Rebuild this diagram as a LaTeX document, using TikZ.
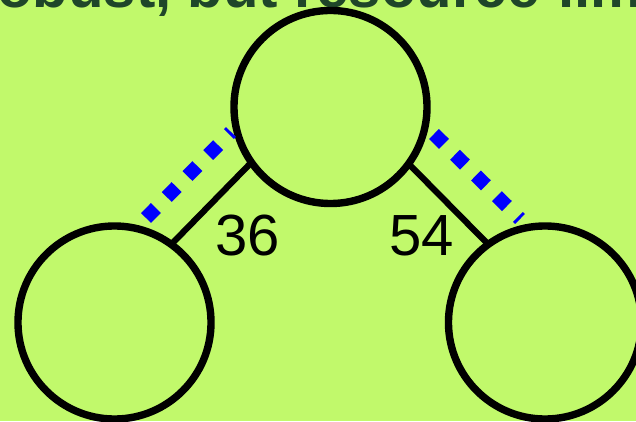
\documentclass[tikz,border=0pt]{standalone}
\usepackage{fontspec}
\setmainfont{Liberation Sans}
\usepackage{xcolor}
\usepackage{tikz}
\definecolor{trLime}{HTML}{C1F96B}
\definecolor{trInk}{HTML}{000000}
\definecolor{trBlue}{HTML}{0000FF}
\definecolor{trTitle}{HTML}{1F4629}
\newcommand{\bigsz}{\fontsize{41.3pt}{50pt}\selectfont}

\begin{document}
\begin{tikzpicture}[
  x=0.025cm, y=0.025cm,
  tnode/.style={circle, draw=trInk, line width=0.185cm, minimum size=4.825cm,
                inner sep=0pt, outer sep=0pt},
  tedge/.style={draw=trInk, line width=0.155cm},
  wlabel/.style={font=\bigsz, text=trInk, inner sep=0pt},
  dots/.style={draw=trBlue, line width=0.35cm, dash pattern=on 0.35cm off 0.3875cm},
  ttitle/.style={font=\bigsz\bfseries, text=trTitle, inner sep=0pt, anchor=base west},
]

% ── Page: background and frame ──────────────────────────────────────────────
\useasboundingbox (0,0) rectangle (636,421);
\fill[trLime] (0,0) rectangle (636,421);
\clip (0,0) rectangle (636,421);

% ── Title, cut by the top edge ──────────────────────────────────────────────
\node[ttitle] (title) at (-3,413) {obust, but resource-lim};

% ── Tree: root and two children ─────────────────────────────────────────────
\node[tnode] (root)  at (330.5,314) {};
\node[tnode] (left)  at (114.5,98.5) {};
\node[tnode] (right) at (545,98.5) {};

% ── Edges and weights ───────────────────────────────────────────────────────
\draw[tedge] (root.215.5) -- (left.54);
\draw[tedge] (root.324.5) -- (right.126);
\node[wlabel] (wleft)  at (248,185) {36};
\node[wlabel] (wright) at (421.5,185.5) {54};

% ── Blue dotted guides beside the edges ─────────────────────────────────────
\coordinate (gl1) at ([shift={(31.5,104.5)}]left.center);
\coordinate (gl2) at ([shift={(-99.5,-25)}]root.center);
\coordinate (gr1) at ([shift={(103.5,-27)}]root.center);
\coordinate (gr2) at ([shift={(-25,103.5)}]right.center);
\draw[dots] (gl1) -- (gl2);
\draw[dots] (gr1) -- (gr2);

\end{tikzpicture}
\end{document}
